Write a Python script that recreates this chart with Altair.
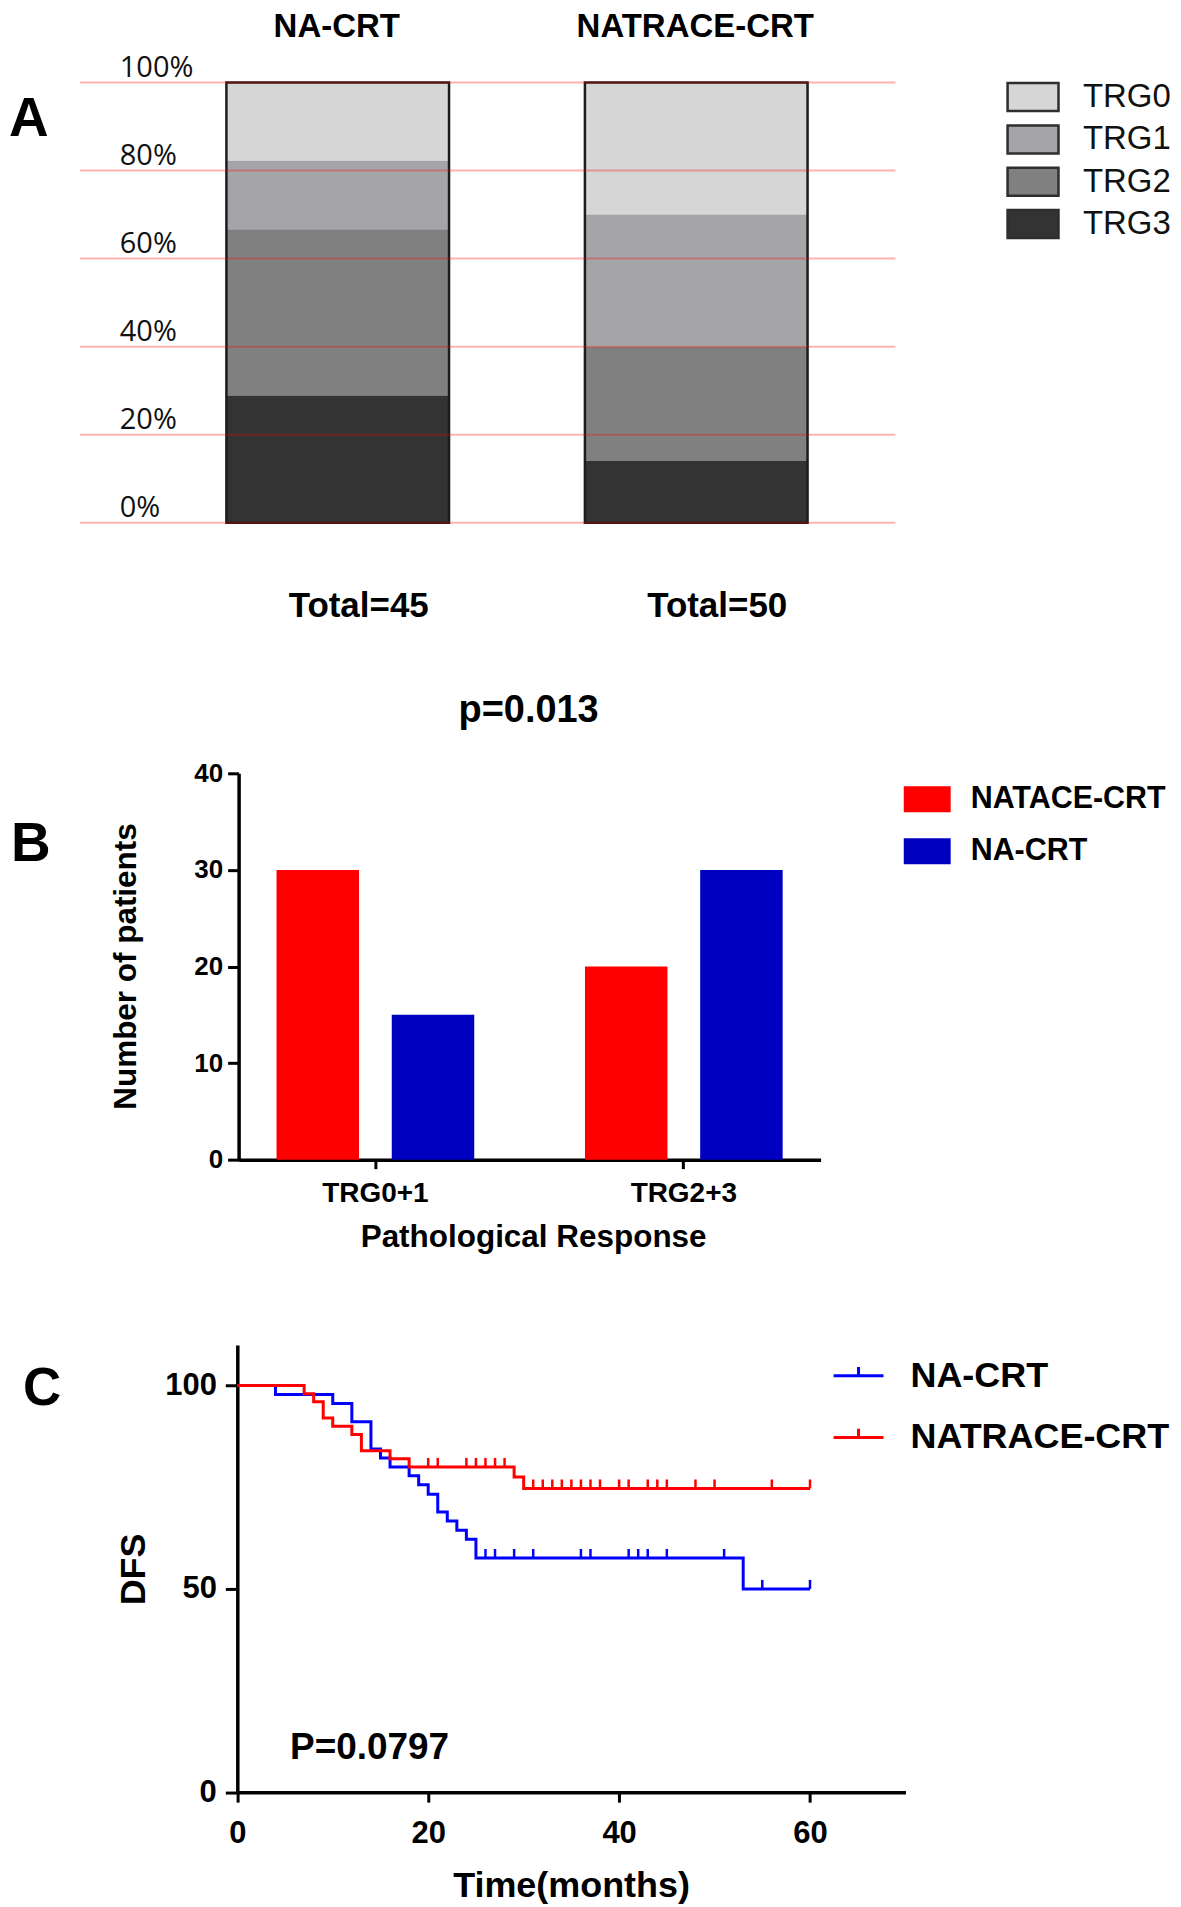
import altair as alt
import pandas as pd

# ---------------- data ----------------
# Panel A : TRG distribution per treatment group (patient counts)
A_GROUPS = ["NA-CRT", "NATRACE-CRT"]
A_TOTALS = [45, 50]
TRG_LEVELS = ["TRG0", "TRG1", "TRG2", "TRG3"]
A_COUNTS_NA = [8, 7, 17, 13]          # TRG0, TRG1, TRG2, TRG3
A_COUNTS_NATRACE = [15, 15, 13, 7]    # TRG0, TRG1, TRG2, TRG3
A_PCT_VALUES = [0, 0.2, 0.4, 0.6, 0.8, 1.0]
A_PCT_LABELS = ["0%", "20%", "40%", "60%", "80%", "100%"]
TRG_COLORS = ["#d6d6d6", "#a5a5a9", "#808080", "#333333"]

# Panel B : pathological response
B_CATEGORIES = ["TRG0+1", "TRG2+3"]
B_SERIES = ["NATACE-CRT", "NA-CRT"]
B_NATACE = [30, 20]
B_NA = [15, 30]
B_TICKS = [0, 10, 20, 30, 40]
B_COLORS = ["#ff0000", "#0000c0"]

# Panel C : DFS Kaplan-Meier curves (step times / survival after step)
C_GROUPS = ["NA-CRT", "NATRACE-CRT"]
C_COLORS = ["#0000ff", "#ff0000"]
C_NA_T = [0, 4, 10, 12, 14, 15, 16, 18, 19, 20, 21, 22, 23, 24, 25, 53, 60]
C_NA_S = [100, 97.8, 95.6, 91.1, 84.4, 82.2, 80.0, 77.8, 75.6, 73.3, 68.9, 66.7, 64.4, 62.2, 57.6, 50.0, 50.0]
C_NA_CENSOR = [26, 27, 29, 31, 36, 37, 41, 42, 43, 45, 51, 55, 60]
C_NT_T = [0, 7, 8, 9, 10, 12, 13, 16, 18, 29, 30, 60]
C_NT_S = [100, 98, 96, 92, 90, 88, 84, 82, 80, 77.5, 74.7, 74.7]
C_NT_CENSOR = [20, 21, 24, 25, 26, 27, 28, 31, 32, 33, 34, 35, 36, 37, 38, 40, 41,
               43, 44, 45, 48, 50, 56, 60]
C_X_TICKS = [0, 20, 40, 60]
C_Y_TICKS = [0, 50, 100]

# ---------------- layout ----------------
W = 1165
HA, HB, HC = 640, 650, 600
FONT = "Liberation Sans, Arial, sans-serif"
FONT_OS = "Open Sans, sans-serif"
BLACK = "#000000"

# ---------------- panel A ----------------
rowsA = []
for g, counts in zip(A_GROUPS, [A_COUNTS_NA, A_COUNTS_NATRACE]):
    for i, (lvl, c) in enumerate(zip(TRG_LEVELS, counts)):
        rowsA.append({"group": g, "trg": lvl, "count": c, "rank": len(TRG_LEVELS) - 1 - i})
dfA = pd.DataFrame(rowsA)
dfA_tot = pd.DataFrame({"group": A_GROUPS, "total": A_TOTALS,
                        "label": [f"Total={t}" for t in A_TOTALS]})
dfA_pct = pd.DataFrame({"v": A_PCT_VALUES, "lab": A_PCT_LABELS})

xA_scale = alt.Scale(domain=A_GROUPS, range=[71, 888], paddingInner=0.379,
                     paddingOuter=0.327, align=0.625)
yA_scale = alt.Scale(domain=[0, 1], range=[513, 72], nice=False)


def xA():
    return alt.X("group:N", scale=xA_scale, axis=None)


barsA = alt.Chart(dfA).mark_bar().encode(
    x=xA(),
    y=alt.Y("count:Q", stack="normalize", scale=yA_scale, axis=None),
    color=alt.Color("trg:N", scale=alt.Scale(domain=TRG_LEVELS, range=TRG_COLORS),
                    legend=alt.Legend(orient="none", legendX=1006.8, legendY=67.6, title=None,
                                      symbolType="M-1.457,-0.8H1.457V0.8H-1.457Z",
                                      symbolSize=1225, symbolStrokeColor="#2e2e2e",
                                      symbolStrokeWidth=2.5, symbolOpacity=1, labelFont=FONT,
                                      labelFontSize=33, labelColor="#111111", labelOffset=31,
                                      rowPadding=4.4, padding=0, labelLimit=500)),
    order=alt.Order("rank:Q", sort="ascending"),
)
outlineA = alt.Chart(dfA_tot).mark_bar(filled=False, stroke="#1c1c1c", strokeWidth=2.5).encode(
    x=xA(), y=alt.Y("total:Q", stack="normalize", scale=yA_scale, axis=None))
# percentage reference lines (drawn above the bars, as in the original)
gridA = alt.Chart(dfA_pct).mark_rule(color="#ff0000", opacity=0.3, strokeWidth=2).encode(
    y=alt.Y("v:Q", scale=yA_scale, axis=None), x=alt.value(71), x2=alt.value(888))
pctA = alt.Chart(dfA_pct).mark_text(font=FONT_OS, fontSize=29, align="left",
                                    baseline="alphabetic", dy=-6, color="#111111").encode(
    x=alt.value(111), y=alt.Y("v:Q", scale=yA_scale, axis=None), text="lab:N")
headA = alt.Chart(dfA_tot).mark_text(font=FONT, fontWeight="bold", fontSize=33,
                                     baseline="alphabetic", color=BLACK, dx=-1).encode(
    x=xA(), y=alt.value(26), text="group:N")
totA = alt.Chart(dfA_tot).mark_text(font=FONT, fontWeight="bold", fontSize=35,
                                    baseline="alphabetic", color=BLACK, dx=21).encode(
    x=xA(), y=alt.value(607.5), text="label:N")
letterA = alt.Chart(pd.DataFrame({"t": ["A"]})).mark_text(
    font=FONT, fontWeight="bold", fontSize=55, align="left", baseline="alphabetic",
    color=BLACK).encode(x=alt.value(0), y=alt.value(126), text="t:N")

panelA = alt.layer(barsA, outlineA, gridA, pctA, headA, totA, letterA).properties(
    width=W, height=HA)

# ---------------- panel B ----------------
rowsB = []
for cat, v1, v2 in zip(B_CATEGORIES, B_NATACE, B_NA):
    rowsB.append({"cat": cat, "series": B_SERIES[0], "n": v1})
    rowsB.append({"cat": cat, "series": B_SERIES[1], "n": v2})
dfB = pd.DataFrame(rowsB)

barsB = alt.Chart(dfB).mark_bar().encode(
    x=alt.X("cat:N", sort=B_CATEGORIES,
            scale=alt.Scale(domain=B_CATEGORIES, range=[230, 813], paddingInner=0.359,
                            paddingOuter=0.123),
            axis=alt.Axis(orient="bottom", offset=511 - HB, title="Pathological Response",
                          labelAngle=0, grid=False, domainColor=BLACK, domainWidth=3.5,
                          tickColor=BLACK, tickWidth=3, tickSize=9, labelFont=FONT,
                          labelFontWeight="bold", labelFontSize=28, labelColor=BLACK,
                          labelPadding=11, titleFont=FONT, titleFontWeight="bold",
                          titleFontSize=31.5, titleColor=BLACK, titleX=525, titleY=78,
                          titleBaseline="middle", titleAlign="center", titleLimit=1000)),
    xOffset=alt.XOffset("series:N", sort=B_SERIES,
                        scale=alt.Scale(domain=B_SERIES, paddingInner=0.284, paddingOuter=0)),
    y=alt.Y("n:Q", scale=alt.Scale(domain=[0, 40], range=[511, 124], nice=False),
            axis=alt.Axis(orient="left", offset=-230, values=B_TICKS, grid=False,
                          domainColor=BLACK, domainWidth=3.5, tickColor=BLACK,
                          tickWidth=3, tickSize=11, labelFont=FONT, labelFontWeight="bold",
                          labelFontSize=26, labelColor=BLACK, labelPadding=5,
                          title="Number of patients", titleFont=FONT, titleFontWeight="bold",
                          titleFontSize=31.5, titleColor=BLACK, titleX=-112, titleY=317,
                          titleAngle=270, titleBaseline="middle", titleAlign="center",
                          titleLimit=1000)),
    color=alt.Color("series:N", scale=alt.Scale(domain=B_SERIES, range=B_COLORS),
                    legend=alt.Legend(orient="none", legendX=896.3, legendY=126.5, title=None,
                                      symbolType="M-1,-0.553H1V0.553H-1Z", symbolSize=2209,
                                      symbolStrokeWidth=0, symbolOpacity=1, labelFont=FONT,
                                      labelFontWeight="bold", labelFontSize=30.5,
                                      labelColor=BLACK, labelOffset=20, rowPadding=13,
                                      padding=0, labelLimit=500)),
)
pB = alt.Chart(pd.DataFrame({"t": ["p=0.013"]})).mark_text(
    font=FONT, fontWeight="bold", fontSize=38, align="center", baseline="alphabetic",
    color=BLACK).encode(x=alt.value(520.5), y=alt.value(73), text="t:N")
letterB = alt.Chart(pd.DataFrame({"t": ["B"]})).mark_text(
    font=FONT, fontWeight="bold", fontSize=55, align="left", baseline="alphabetic",
    color=BLACK).encode(x=alt.value(2), y=alt.value(212), text="t:N")

panelB = alt.layer(barsB, pB, letterB).properties(width=W, height=HB)

# ---------------- panel C ----------------
def level_at(times, surv, t):
    lvl = surv[0]
    for tt, s in zip(times, surv):
        if tt <= t:
            lvl = s
    return lvl


rowsC = []
for g, ts, ss in [(C_GROUPS[0], C_NA_T, C_NA_S), (C_GROUPS[1], C_NT_T, C_NT_S)]:
    for t, s in zip(ts, ss):
        rowsC.append({"grp": g, "t": t, "s": s})
dfC = pd.DataFrame(rowsC)
rowsCc = []
for g, ts, ss, cs in [(C_GROUPS[0], C_NA_T, C_NA_S, C_NA_CENSOR),
                      (C_GROUPS[1], C_NT_T, C_NT_S, C_NT_CENSOR)]:
    for t in cs:
        rowsCc.append({"grp": g, "t": t, "s": level_at(ts, ss, t)})
dfCc = pd.DataFrame(rowsCc)

xC_scale = alt.Scale(domain=[0, 70], range=[228.7, 898], nice=False)
yC_scale = alt.Scale(domain=[0, 110], range=[494.6, 46.6], nice=False)
cC_scale = alt.Scale(domain=C_GROUPS, range=C_COLORS)
xC_axis = alt.Axis(orient="bottom", offset=494.6 - HC, values=C_X_TICKS, grid=False,
                   labelFlush=False, domainColor=BLACK, domainWidth=3.5,
                   tickColor=BLACK, tickWidth=3, tickSize=10, labelFont=FONT,
                   labelFontWeight="bold", labelFontSize=31, labelColor=BLACK,
                   labelPadding=16, title="Time(months)", titleFont=FONT,
                   titleFontWeight="bold", titleFontSize=36, titleColor=BLACK,
                   titleX=563, titleY=94, titleBaseline="middle", titleAlign="center",
                   titleLimit=1000)
yC_axis = alt.Axis(orient="left", offset=-228.7, values=C_Y_TICKS, grid=False,
                   domainColor=BLACK, domainWidth=3.5, tickColor=BLACK,
                   tickWidth=3, tickSize=12, labelFont=FONT, labelFontWeight="bold",
                   labelFontSize=31, labelColor=BLACK, labelPadding=9,
                   title="DFS", titleFont=FONT, titleFontWeight="bold",
                   titleFontSize=36, titleColor=BLACK, titleX=-103.7, titleY=271,
                   titleAngle=270, titleBaseline="middle", titleAlign="center")

lineC = alt.Chart(dfC).mark_line(interpolate="step-after", strokeWidth=3).encode(
    x=alt.X("t:Q", scale=xC_scale, axis=xC_axis),
    y=alt.Y("s:Q", scale=yC_scale, axis=yC_axis),
    color=alt.Color("grp:N", scale=cC_scale,
                    legend=alt.Legend(orient="none", legendX=824.5, legendY=51, title=None,
                                      symbolType="M-1,0H1M0,0V-0.35", symbolSize=2500,
                                      symbolStrokeWidth=3, symbolOpacity=1, labelFont=FONT,
                                      labelFontWeight="bold", labelFontSize=36,
                                      labelColor=BLACK, labelOffset=25.5, rowPadding=16.8,
                                      padding=0, labelLimit=600)),
)
censC = alt.Chart(dfCc).mark_rule(strokeWidth=2.5, yOffset=-9).encode(
    x=alt.X("t:Q", scale=xC_scale, axis=xC_axis),
    y=alt.Y("s:Q", scale=yC_scale, axis=yC_axis),
    y2=alt.Y2("s:Q"),
    color=alt.Color("grp:N", scale=cC_scale, legend=None),
)
pC = alt.Chart(pd.DataFrame({"t": ["P=0.0797"]})).mark_text(
    font=FONT, fontWeight="bold", fontSize=37, align="left", baseline="alphabetic",
    color=BLACK).encode(x=alt.value(281.5), y=alt.value(461), text="t:N")
letterC = alt.Chart(pd.DataFrame({"t": ["C"]})).mark_text(
    font=FONT, fontWeight="bold", fontSize=53, align="left", baseline="alphabetic",
    color=BLACK).encode(x=alt.value(14), y=alt.value(107), text="t:N")

panelC = alt.layer(lineC, censC, pC, letterC).properties(width=W, height=HC)

chart = alt.concat(panelA, panelB, panelC, columns=1, spacing=0, bounds="flush",
                   align="each").resolve_scale(
    x="independent", y="independent", color="independent"
).properties(padding=0, background="white").configure_view(stroke="transparent")

chart.save("out.html", embed_options={"renderer": "svg", "actions": False})
